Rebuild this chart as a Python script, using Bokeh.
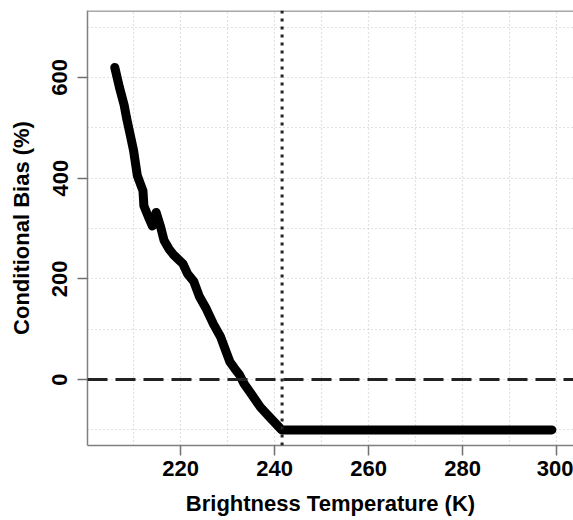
from bokeh.plotting import figure
from bokeh.models import FixedTicker, Span, Range1d
from bokeh.embed import file_html
from bokeh.resources import INLINE

# Data
temp = [206.0, 207.0, 208.0, 208.5, 209.2, 210.0, 210.8, 211.6, 212.0, 212.2,
        213.2, 214.0, 214.8, 215.7, 216.5, 217.5, 218.5, 219.6, 220.5, 221.5,
        222.8, 224.0, 225.5, 227.0, 228.5, 229.5, 230.5, 231.5, 232.5, 233.5,
        235.0, 237.0, 239.0, 240.5, 241.5, 250.0, 260.0, 270.0, 280.0, 290.0, 299.0]
bias = [620, 580, 545, 520, 490, 455, 405, 385, 375, 345,
        322, 305, 332, 305, 276, 260, 248, 238, 230, 210,
        195, 165, 140, 110, 85, 60, 35, 22, 10, -8,
        -28, -55, -75, -90, -100, -100, -100, -100, -100, -100, -100]
threshold_temp = 241.6
zero_bias = 0
x_ticks = [220, 240, 260, 280, 300]
y_ticks = [0, 200, 400, 600]
x_grid = [210, 220, 230, 240, 250, 260, 270, 280, 290, 300]
y_grid = [-100, 0, 100, 200, 300, 400, 500, 600, 700]
x_label = "Brightness Temperature (K)"
y_label = "Conditional Bias (%)"

FONT = "Liberation Sans"

p = figure(width=573, height=520, x_range=Range1d(200.2, 303.6), y_range=Range1d(-131, 733),
           output_backend="svg", toolbar_location=None,
           min_border_left=87, min_border_right=0, min_border_top=10, min_border_bottom=75)
p.outline_line_color = None
p.background_fill_color = "white"
p.border_fill_color = "white"

# grid
p.xgrid.ticker = FixedTicker(ticks=x_grid)
p.ygrid.ticker = FixedTicker(ticks=y_grid)
for g in (p.xgrid, p.ygrid):
    g.grid_line_color = "#c4c4c4"
    g.grid_line_dash = "1 3"
    g.grid_line_width = 1.2

# axes
p.xaxis.ticker = FixedTicker(ticks=x_ticks)
p.yaxis.ticker = FixedTicker(ticks=y_ticks)
for ax in (p.xaxis, p.yaxis):
    ax.axis_line_color = "#808080"
    ax.axis_line_width = 1.5
    ax.major_tick_line_color = "#707070"
    ax.major_tick_line_width = 1.5
    ax.major_tick_out = 10
    ax.major_tick_in = 0
    ax.minor_tick_line_color = None
    ax.major_label_text_font = FONT
    ax.major_label_text_font_style = "bold"
    ax.major_label_text_font_size = "22px"
    ax.major_label_text_color = "black"
    ax.axis_label_text_font = FONT
    ax.axis_label_text_font_style = "bold"
    ax.axis_label_text_font_size = "22px"
    ax.axis_label_text_color = "black"
p.xaxis.axis_label = x_label
p.yaxis.axis_label = y_label
p.yaxis.major_label_orientation = "vertical"
p.xaxis.major_label_standoff = 5
p.yaxis.major_label_standoff = 10
p.xaxis.axis_label_standoff = 12
p.yaxis.axis_label_standoff = 16

# top border of the box
p.add_layout(Span(location=733, dimension="width", line_color="#a8a8a8", line_width=3))

# reference lines
p.add_layout(Span(location=zero_bias, dimension="width", line_color="#222222",
                  line_width=3, line_dash="20 8"))
p.add_layout(Span(location=threshold_temp, dimension="height", line_color="#222222",
                  line_width=3, line_dash="3 5"))

p.line(temp, bias, line_color="black", line_width=9, line_cap="round", line_join="round")

open("out.html", "w").write(file_html(p, INLINE))
